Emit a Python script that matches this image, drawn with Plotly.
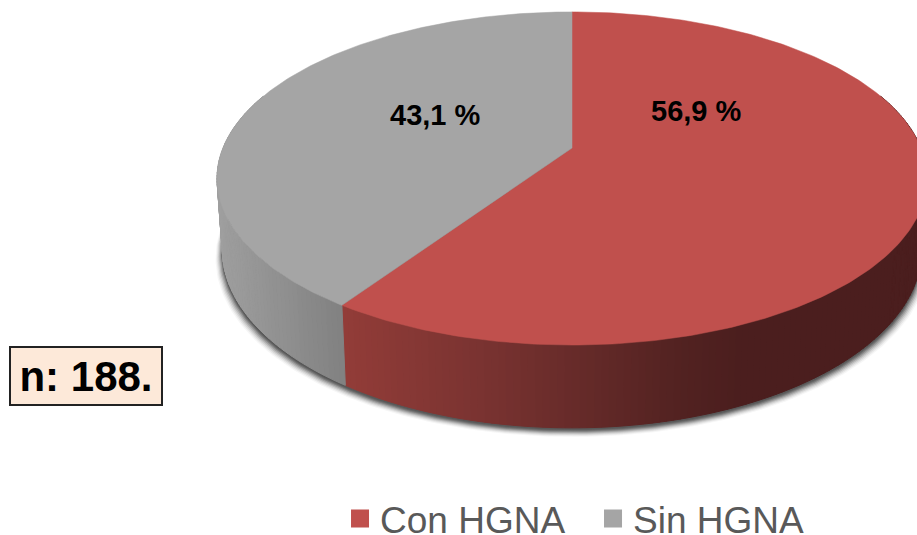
import numpy as np
import plotly.graph_objects as go

# ---- data ----
categories = ["Con HGNA", "Sin HGNA"]
shares = [56.9, 43.1]
value_labels = ["56,9 %", "43,1 %"]
note_text = "n: 188."

# ---- style ----
top_colors = ["#c0504d", "#a5a5a5"]
wall_stops = [
    [(345, (146, 60, 56)), (480, (122, 51, 49)), (680, (82, 34, 33)), (740, (75, 30, 30)), (930, (75, 30, 30))],
    [(215, (160, 160, 160)), (349, (128, 128, 128))],
]
TEXT = "#595959"
W, H = 917, 535
FIG_H = 560             # a little taller than the window so the legend can sit low
CX, CY = 572, 148       # pie hub in pixels
R, HT, K = 349, 161, 0.183   # perspective disc
FORESHORTEN = 0.686
SCALE_X = 0.985
DEPTH_A, DEPTH_B = 217, 1.07


def displayed(theta):
    """true clockwise angle from 12 o'clock -> angle after depth foreshortening"""
    return np.arctan2(np.sin(theta), FORESHORTEN * np.cos(theta)) % (2 * np.pi)


def top_ring(t):
    u, v = np.sin(t), np.cos(t)
    d = 1 + K * v
    return CX + R * u / d, CY - HT * v / d


def bottom_ring(t, grow=0.0, drop=0.0):
    x, y = top_ring(t)
    return CX + (SCALE_X + grow) * (x - CX), DEPTH_A + DEPTH_B * (y - CY) + drop


def wall_color(stops, x):
    xs = [s[0] for s in stops]
    rgb = [np.interp(x, xs, [s[1][i] for s in stops]) for i in range(3)]
    return "rgb(%d,%d,%d)" % tuple(int(round(c)) for c in rgb)


fractions = np.cumsum([0] + shares) / sum(shares)
edges = [displayed(f * 2 * np.pi) if 0 < f < 1 else f * 2 * np.pi for f in fractions]

fig = go.Figure()

# soft shadow under the disc
all_t = np.linspace(0, 2 * np.pi, 361)
for grow, drop, alpha in [(0.019, 9, 0.05), (0.016, 8, 0.08), (0.013, 7, 0.12), (0.010, 6, 0.18),
                          (0.007, 5, 0.25), (0.004, 4, 0.35), (0.002, 3, 0.4), (0.001, 2, 0.45)]:
    sx, sy = bottom_ring(all_t, grow, drop)
    fig.add_trace(go.Scatter(x=sx, y=sy, mode="lines", fill="toself", line=dict(width=0),
                             fillcolor="rgba(70,70,70,%s)" % alpha, hoverinfo="skip", showlegend=False))

# side wall strips
for i in range(len(shares)):
    a, b = edges[i], edges[i + 1]
    lo, hi = max(a, np.radians(70)), min(b, np.radians(290))
    n = max(2, int((hi - lo) / np.radians(1.0)))
    ts = np.linspace(lo, hi, n + 1)
    for t0, t1 in zip(ts[:-1], ts[1:]):
        x0, y0 = top_ring(t0); x1, y1 = top_ring(t1)
        x2, y2 = bottom_ring(t1); x3, y3 = bottom_ring(t0)
        c = wall_color(wall_stops[i], (x0 + x1 + x2 + x3) / 4)
        fig.add_trace(go.Scatter(x=[x0, x1, x2, x3, x0], y=[y0, y1, y2, y3, y0], mode="lines", fill="toself",
                                 line=dict(width=1, color=c), fillcolor=c, hoverinfo="skip", showlegend=False))

# top face
for i in range(len(shares)):
    ts = np.linspace(edges[i], edges[i + 1], 240)
    x, y = top_ring(ts)
    fig.add_trace(go.Scatter(x=np.r_[CX, x, CX], y=np.r_[CY, y, CY], mode="lines", fill="toself",
                             line=dict(width=0.5, color=top_colors[i]), fillcolor=top_colors[i],
                             hoverinfo="skip", showlegend=False))

# legend
for name, color in zip(categories, top_colors):
    fig.add_trace(go.Scatter(x=[None], y=[None], mode="markers", name=name,
                             marker=dict(symbol="square", size=16, color=color, line=dict(width=2, color=color))))

label_pos = [(696, 111), (435, 115)]
annotations = [dict(x=p[0], y=p[1], text="<b>%s</b>" % t, showarrow=False, xref="x", yref="y",
                    font=dict(family="Liberation Sans", size=29, color="#000000"))
               for t, p in zip(value_labels, label_pos)]
annotations.append(dict(x=86, y=376, xref="x", yref="y", text="<b>%s</b>" % note_text, showarrow=False,
                        width=150, height=56, align="center", valign="middle",
                        bgcolor="#fde9d9", bordercolor="#222222", borderwidth=2, borderpad=0,
                        font=dict(family="Liberation Sans", size=42, color="#000000")))

fig.update_layout(
    width=W, height=FIG_H, margin=dict(l=0, r=0, t=0, b=0), paper_bgcolor="white", plot_bgcolor="white",
    xaxis=dict(range=[0, W], visible=False, fixedrange=True),
    yaxis=dict(range=[FIG_H, 0], visible=False, fixedrange=True),
    annotations=annotations,
    legend=dict(orientation="h", x=0.3708, y=1 - 519 / FIG_H, xanchor="left", yanchor="middle", bgcolor="rgba(0,0,0,0)",
                entrywidth=208, entrywidthmode="pixels",
                font=dict(family="Liberation Sans", size=37, color=TEXT)),
)
fig.write_html("out.html", config=dict(displayModeBar=False),
               post_script="document.body.style.margin='0';document.body.style.overflow='hidden';")
